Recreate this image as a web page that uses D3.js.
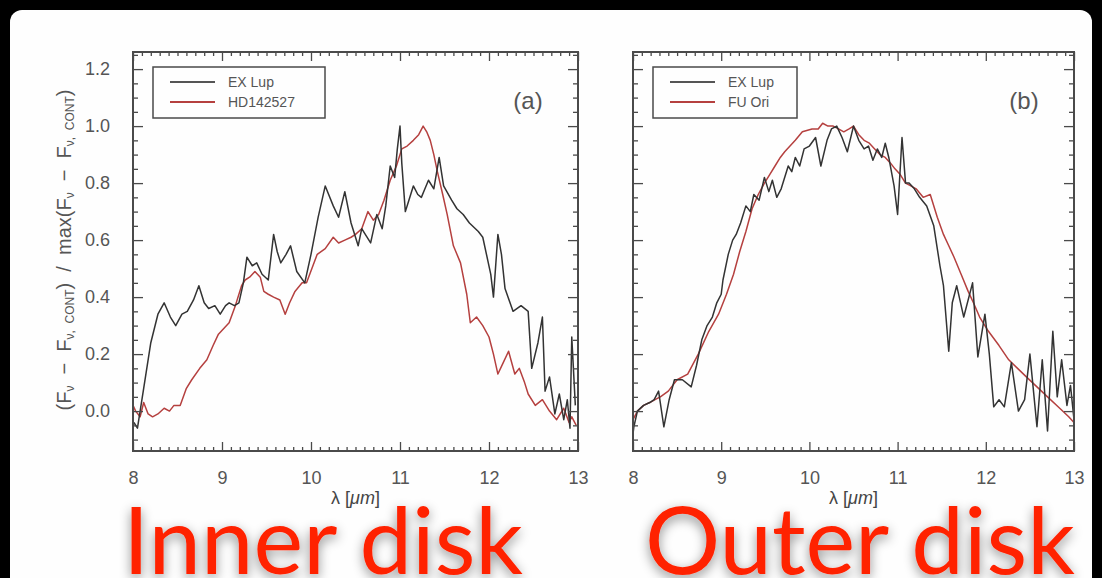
<!DOCTYPE html>
<html>
<head>
<meta charset="utf-8">
<script src="https://cdn.jsdelivr.net/npm/d3@7/dist/d3.min.js"></script>
<style>
  html, body { margin: 0; padding: 0; background: #000; }
  svg { display: block; }
</style>
</head>
<body>
<svg id="chart" width="1102" height="578"></svg>
<script>
// ---- spectra (normalised continuum-subtracted flux vs wavelength in micron) ----
const exLupInnerWl = [8.01, 8.05, 8.12, 8.2, 8.28, 8.35, 8.42, 8.48, 8.55, 8.61, 8.68, 8.74, 8.8, 8.85, 8.92, 8.98, 9.04, 9.08, 9.14, 9.19, 9.24, 9.28, 9.34, 9.39, 9.45, 9.52, 9.58, 9.62, 9.66, 9.72, 9.77, 9.84, 9.93, 10.0, 10.08, 10.16, 10.25, 10.31, 10.38, 10.45, 10.53, 10.57, 10.61, 10.67, 10.74, 10.8, 10.84, 10.89, 10.94, 10.97, 11.0, 11.02, 11.06, 11.1, 11.15, 11.2, 11.24, 11.28, 11.32, 11.38, 11.44, 11.49, 11.58, 11.64, 11.71, 11.78, 11.88, 11.93, 12.02, 12.05, 12.1, 12.14, 12.18, 12.27, 12.36, 12.44, 12.48, 12.55, 12.6, 12.63, 12.68, 12.74, 12.79, 12.84, 12.88, 12.91, 12.93, 12.97];
const exLupInnerFx = [-0.04, -0.06, 0.08, 0.24, 0.34, 0.38, 0.33, 0.30, 0.34, 0.35, 0.39, 0.44, 0.38, 0.36, 0.37, 0.34, 0.37, 0.38, 0.37, 0.38, 0.45, 0.54, 0.51, 0.52, 0.48, 0.46, 0.62, 0.56, 0.52, 0.55, 0.58, 0.49, 0.45, 0.55, 0.68, 0.79, 0.72, 0.68, 0.77, 0.66, 0.58, 0.64, 0.62, 0.59, 0.69, 0.64, 0.72, 0.86, 0.82, 0.92, 1.0, 0.87, 0.70, 0.74, 0.79, 0.76, 0.75, 0.78, 0.81, 0.78, 0.89, 0.79, 0.74, 0.71, 0.69, 0.66, 0.63, 0.61, 0.48, 0.40, 0.62, 0.55, 0.43, 0.35, 0.37, 0.35, 0.15, 0.24, 0.33, 0.07, 0.12, -0.01, 0.06, -0.03, 0.04, -0.06, 0.26, 0.02];

const hd142527Wl = [8.0, 8.03, 8.08, 8.12, 8.17, 8.22, 8.28, 8.35, 8.41, 8.46, 8.53, 8.6, 8.66, 8.75, 8.83, 8.9, 8.96, 9.02, 9.08, 9.15, 9.22, 9.26, 9.31, 9.37, 9.43, 9.47, 9.52, 9.58, 9.65, 9.71, 9.76, 9.82, 9.9, 9.95, 10.01, 10.07, 10.16, 10.25, 10.31, 10.38, 10.45, 10.5, 10.57, 10.64, 10.7, 10.76, 10.82, 10.89, 10.96, 11.02, 11.08, 11.15, 11.21, 11.26, 11.3, 11.34, 11.38, 11.42, 11.48, 11.53, 11.6, 11.68, 11.75, 11.79, 11.86, 11.93, 12.0, 12.05, 12.1, 12.16, 12.22, 12.29, 12.34, 12.4, 12.44, 12.52, 12.6, 12.68, 12.76, 12.84, 12.9, 12.93, 12.98];
const hd142527Fx = [0.02, 0.0, -0.02, 0.03, -0.01, -0.02, -0.01, 0.01, 0.0, 0.02, 0.02, 0.08, 0.11, 0.15, 0.18, 0.23, 0.27, 0.29, 0.31, 0.37, 0.44, 0.46, 0.47, 0.49, 0.47, 0.42, 0.41, 0.40, 0.39, 0.34, 0.38, 0.42, 0.45, 0.45, 0.50, 0.55, 0.57, 0.61, 0.59, 0.60, 0.61, 0.62, 0.64, 0.70, 0.67, 0.69, 0.74, 0.81, 0.86, 0.92, 0.93, 0.95, 0.97, 1.0, 0.98, 0.95, 0.90, 0.84, 0.76, 0.69, 0.58, 0.52, 0.41, 0.31, 0.33, 0.30, 0.26, 0.20, 0.13, 0.17, 0.21, 0.13, 0.15, 0.10, 0.06, 0.02, 0.04, 0.0, -0.03, 0.01, -0.04, -0.02, -0.05];

const exLupOuterWl = [8.0, 8.01, 8.05, 8.12, 8.19, 8.24, 8.29, 8.35, 8.41, 8.47, 8.56, 8.66, 8.72, 8.78, 8.84, 8.9, 8.95, 9.0, 9.02, 9.08, 9.13, 9.17, 9.22, 9.28, 9.33, 9.37, 9.43, 9.49, 9.54, 9.58, 9.63, 9.68, 9.76, 9.8, 9.84, 9.89, 9.94, 10.0, 10.07, 10.13, 10.2, 10.25, 10.31, 10.37, 10.43, 10.5, 10.56, 10.62, 10.67, 10.72, 10.77, 10.82, 10.86, 10.9, 10.96, 11.0, 11.05, 11.09, 11.13, 11.19, 11.25, 11.33, 11.41, 11.48, 11.52, 11.58, 11.62, 11.67, 11.75, 11.85, 11.91, 11.99, 12.04, 12.09, 12.15, 12.21, 12.29, 12.37, 12.44, 12.5, 12.58, 12.64, 12.7, 12.76, 12.81, 12.86, 12.92, 12.96, 13.0];
const exLupOuterFx = [-0.08, -0.055, 0.0, 0.02, 0.03, 0.04, 0.07, -0.055, 0.04, 0.11, 0.11, 0.085, 0.16, 0.25, 0.30, 0.33, 0.38, 0.41, 0.46, 0.55, 0.60, 0.62, 0.66, 0.72, 0.70, 0.76, 0.74, 0.82, 0.77, 0.81, 0.75, 0.78, 0.86, 0.84, 0.89, 0.86, 0.92, 0.93, 0.96, 0.86, 0.95, 0.99, 1.0, 0.96, 0.91, 1.0, 0.95, 0.92, 0.93, 0.88, 0.92, 0.89, 0.94, 0.89, 0.79, 0.69, 0.96, 0.80, 0.80, 0.78, 0.75, 0.72, 0.65, 0.51, 0.44, 0.21, 0.38, 0.44, 0.33, 0.45, 0.19, 0.34, 0.20, 0.015, 0.04, 0.015, 0.17, 0.0, 0.04, 0.2, -0.055, 0.18, -0.07, 0.28, 0.05, 0.18, 0.02, 0.09, -0.03];

const fuOriWl = [8.0, 8.05, 8.12, 8.19, 8.25, 8.31, 8.4, 8.5, 8.62, 8.74, 8.86, 8.97, 9.06, 9.14, 9.21, 9.28, 9.35, 9.42, 9.49, 9.55, 9.61, 9.67, 9.72, 9.78, 9.84, 9.92, 10.03, 10.1, 10.15, 10.21, 10.27, 10.33, 10.39, 10.45, 10.5, 10.56, 10.62, 10.68, 10.74, 10.8, 10.86, 10.92, 10.97, 11.03, 11.09, 11.15, 11.21, 11.29, 11.37, 11.45, 11.52, 11.58, 11.64, 11.72, 11.8, 11.86, 11.93, 12.03, 12.15, 12.26, 12.36, 12.46, 12.58, 12.7, 12.82, 12.94, 13.0];
const fuOriFx = [-0.03, 0.0, 0.02, 0.03, 0.04, 0.05, 0.07, 0.11, 0.13, 0.2, 0.28, 0.34, 0.41, 0.48, 0.56, 0.63, 0.71, 0.76, 0.80, 0.83, 0.86, 0.89, 0.91, 0.93, 0.95, 0.98, 0.99, 0.99, 1.01, 1.0, 1.0, 0.99, 0.98, 0.99, 1.0, 0.97, 0.95, 0.94, 0.92, 0.90, 0.89, 0.87, 0.85, 0.83, 0.80, 0.79, 0.78, 0.75, 0.76, 0.68, 0.62, 0.58, 0.54, 0.48, 0.42, 0.38, 0.33, 0.28, 0.23, 0.18, 0.15, 0.12, 0.085, 0.05, 0.015, -0.02, -0.04];

// ---- axis ticks and labels ----
const xMajorTicks = [8, 9, 10, 11, 12, 13];
const yMajorTicks = [0.0, 0.2, 0.4, 0.6, 0.8, 1.0, 1.2];
const xDomain = [8, 13];
const yDomain = [-0.14, 1.26];

const panelTags = ["(a)", "(b)"];
const legendNames = [["EX Lup", "HD142527"], ["EX Lup", "FU Ori"]];
const captions = ["Inner disk", "Outer disk"];

// ---- drawing ----
const svg = d3.select("#chart");
const W = 1102, H = 578;
const BLACK = "#333", RED = "#b5403f", AXIS = "#4a4a4a", TEXT = "#555";

const defs = svg.append("defs");
const shadow = defs.append("filter").attr("id", "glow")
  .attr("x", "-10%").attr("y", "-20%").attr("width", "120%").attr("height", "150%");
shadow.append("feDropShadow").attr("dx", 0).attr("dy", 4).attr("stdDeviation", 6)
  .attr("flood-color", "#000").attr("flood-opacity", 0.45);

svg.append("rect").attr("width", W).attr("height", H).attr("fill", "#000");
svg.append("rect").attr("x", 10).attr("y", 10).attr("width", 1082).attr("height", 620)
  .attr("rx", 12).attr("fill", "#fefefe");

const yTop = 52, yBot = 451;
const panels = [
  { x0: 133, x1: 578, series: [[exLupInnerWl, exLupInnerFx, BLACK], [hd142527Wl, hd142527Fx, RED]], yLabels: true },
  { x0: 633, x1: 1074, series: [[exLupOuterWl, exLupOuterFx, BLACK], [fuOriWl, fuOriFx, RED]], yLabels: false }
];

const fontFam = "'Liberation Sans', Arial, sans-serif";

panels.forEach((p, i) => {
  const x = d3.scaleLinear().domain(xDomain).range([p.x0, p.x1]);
  const y = d3.scaleLinear().domain(yDomain).range([yBot, yTop]);
  const g = svg.append("g");

  const clipId = "clip" + i;
  defs.append("clipPath").attr("id", clipId).append("rect")
    .attr("x", p.x0).attr("y", yTop).attr("width", p.x1 - p.x0).attr("height", yBot - yTop);

  // curves
  const line = d3.line().x(d => x(d[0])).y(d => y(d[1]));
  p.series.slice().reverse().forEach(([wl, fx, col]) => {
    g.append("path").datum(wl.map((w, k) => [w, fx[k]]))
      .attr("clip-path", `url(#${clipId})`)
      .attr("d", line).attr("fill", "none").attr("stroke", col)
      .attr("stroke-width", 1.5).attr("stroke-linejoin", "round");
  });

  // inward ticks on all four sides
  const xMinor = d3.range(80, 131).map(v => v / 10).filter(v => !Number.isInteger(v));
  const yMinor = d3.range(-2, 26).map(v => v * 0.05).filter(v => Math.abs(Math.round(v * 5) - v * 5) > 1e-6 && v >= yDomain[0] && v <= yDomain[1]);
  const axisStyle = sel => { sel.select(".domain").remove(); sel.selectAll("line").attr("stroke", AXIS).attr("stroke-width", 1.3); };

  g.append("g").attr("transform", `translate(0,${yBot})`)
    .call(d3.axisBottom(x).tickValues(xMinor).tickSize(-4).tickFormat("")).call(axisStyle);
  g.append("g").attr("transform", `translate(0,${yTop})`)
    .call(d3.axisTop(x).tickValues(xMinor).tickSize(-4).tickFormat("")).call(axisStyle);
  g.append("g").attr("transform", `translate(0,${yBot})`)
    .call(d3.axisBottom(x).tickValues(xMajorTicks).tickSize(-9).tickPadding(20).tickFormat(d3.format("d")))
    .call(axisStyle)
    .call(s => s.selectAll("text").attr("fill", TEXT).attr("font-size", 18).attr("font-family", fontFam));
  g.append("g").attr("transform", `translate(0,${yTop})`)
    .call(d3.axisTop(x).tickValues(xMajorTicks).tickSize(-9).tickFormat("")).call(axisStyle);

  g.append("g").attr("transform", `translate(${p.x0},0)`)
    .call(d3.axisLeft(y).tickValues(yMinor).tickSize(-5).tickFormat("")).call(axisStyle);
  g.append("g").attr("transform", `translate(${p.x1},0)`)
    .call(d3.axisRight(y).tickValues(yMinor).tickSize(-5).tickFormat("")).call(axisStyle);
  g.append("g").attr("transform", `translate(${p.x0},0)`)
    .call(d3.axisLeft(y).tickValues(yMajorTicks).tickSize(-10).tickPadding(23)
      .tickFormat(p.yLabels ? d3.format(".1f") : ""))
    .call(axisStyle)
    .call(s => s.selectAll("text").attr("fill", TEXT).attr("font-size", 18).attr("font-family", fontFam));
  g.append("g").attr("transform", `translate(${p.x1},0)`)
    .call(d3.axisRight(y).tickValues(yMajorTicks).tickSize(-10).tickFormat("")).call(axisStyle);

  // frame
  g.append("rect").attr("x", p.x0).attr("y", yTop).attr("width", p.x1 - p.x0).attr("height", yBot - yTop)
    .attr("fill", "none").attr("stroke", AXIS).attr("stroke-width", 2);

  // legend
  const lx = p.x0 + 20, ly = 67;
  const lw = i === 0 ? 172 : 144;
  g.append("rect").attr("x", lx).attr("y", ly).attr("width", lw).attr("height", 51)
    .attr("fill", "none").attr("stroke", AXIS).attr("stroke-width", 1.5);
  legendNames[i].forEach((name, k) => {
    const yy = ly + 15 + k * 20;
    g.append("line").attr("x1", lx + 17).attr("x2", lx + 62).attr("y1", yy).attr("y2", yy)
      .attr("stroke", k === 0 ? "#555" : RED).attr("stroke-width", 2);
    g.append("text").attr("x", lx + 75).attr("y", yy + 5).text(name)
      .attr("fill", TEXT).attr("font-size", 14).attr("font-family", fontFam);
  });

  // panel tag
  g.append("text").attr("x", p.x1 - 50).attr("y", 109).text(panelTags[i])
    .attr("fill", TEXT).attr("font-size", 24).attr("font-family", fontFam).attr("text-anchor", "middle");

  // x-axis title
  const xt = g.append("text").attr("x", (p.x0 + p.x1) / 2).attr("y", 504)
    .attr("fill", "#444").attr("font-size", 18).attr("font-family", fontFam).attr("text-anchor", "middle");
  xt.append("tspan").text("λ [");
  xt.append("tspan").attr("font-style", "italic").text("μm");
  xt.append("tspan").text("]");
});

// y-axis title
const yt = svg.append("text").attr("transform", "translate(71,250) rotate(-90)")
  .attr("text-anchor", "middle").attr("fill", TEXT).attr("font-size", 20).attr("font-family", fontFam)
  .attr("xml:space", "preserve").style("white-space", "pre");
const part = (t, sub) => yt.append("tspan").text(t)
  .attr("baseline-shift", sub ? "-25%" : null).attr("font-size", sub ? 12 : null);
part("(F"); part("ν", true); part("  −  F"); part("ν,  CONT", true);
part(")  /  max(F"); part("ν", true); part("  −  F"); part("ν,  CONT", true); part(")");

// captions
const capX = [123, 645];
captions.forEach((c, i) => {
  svg.append("text").attr("x", capX[i]).attr("y", 574).text(c)
    .attr("fill", "#ff2200").attr("font-size", 94).attr("font-family", "Lato, 'Open Sans', sans-serif")
    .attr("filter", "url(#glow)");
});
</script>
</body>
</html>
